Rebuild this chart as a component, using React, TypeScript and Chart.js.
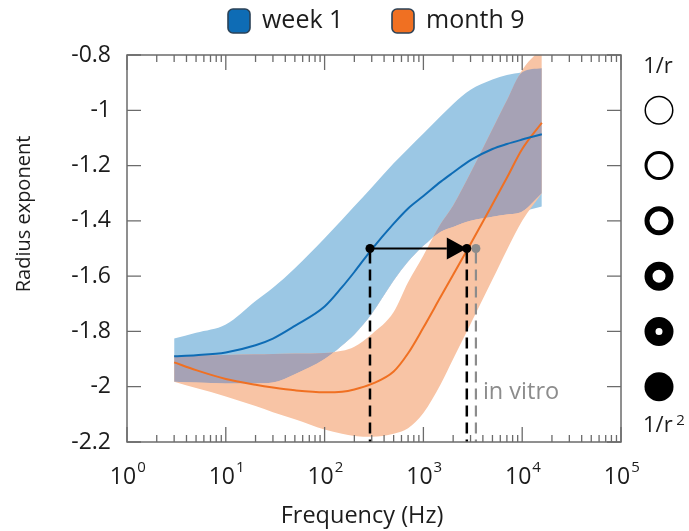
import { useEffect, useRef } from 'react';
import { Chart, registerables } from 'chart.js';

Chart.register(...registerables);

// ---------- data ----------
const frequencies = [3, 5, 10, 20, 30, 50, 100, 150, 200, 300, 500, 700, 1000, 1500, 2000, 3000, 5000, 7000, 10000, 15800];
const week1Mean = [-1.89, -1.886, -1.876, -1.85, -1.826, -1.78, -1.71, -1.64, -1.585, -1.503, -1.41, -1.355, -1.31, -1.258, -1.225, -1.18, -1.14, -1.122, -1.106, -1.087];
const week1Upper = [-1.826, -1.805, -1.775, -1.69, -1.642, -1.571, -1.463, -1.396, -1.347, -1.279, -1.192, -1.139, -1.084, -1.021, -0.977, -0.926, -0.889, -0.872, -0.862, -0.848];
const week1Lower = [-1.982, -1.985, -1.988, -1.988, -1.985, -1.955, -1.9, -1.851, -1.811, -1.736, -1.616, -1.547, -1.49, -1.439, -1.422, -1.4, -1.385, -1.377, -1.366, -1.348];
const month9Mean = [-1.912, -1.94, -1.972, -1.993, -2.003, -2.013, -2.02, -2.018, -2.01, -1.99, -1.945, -1.879, -1.786, -1.674, -1.595, -1.484, -1.34, -1.244, -1.14, -1.045];
const month9Upper = [-1.888, -1.886, -1.885, -1.883, -1.882, -1.88, -1.878, -1.87, -1.855, -1.81, -1.73, -1.622, -1.525, -1.41, -1.344, -1.226, -1.068, -0.964, -0.854, -0.775];
const month9Lower = [-1.982, -2.005, -2.035, -2.07, -2.092, -2.118, -2.155, -2.17, -2.178, -2.181, -2.17, -2.15, -2.095, -1.99, -1.9, -1.773, -1.612, -1.505, -1.4, -1.3];

const seriesNames = ['week 1', 'month 9'];
const xTickValues = [1, 10, 100, 1000, 10000, 100000];
const yTickValues = [-0.8, -1, -1.2, -1.4, -1.6, -1.8, -2, -2.2];
const xTitle = 'Frequency (Hz)';
const yTitle = 'Radius exponent';

const arrowLevel = -1.5;
const arrowFromFreq = 288;
const arrowToFreq = 2750;
const inVitroFreq = 3400;
const inVitroLabel = 'in vitro';

const ringLevels = [-1, -1.2, -1.4, -1.6, -1.8, -2];
const ringTopLabel = '1/r';
const ringBottomLabel = '1/r';
const ringBottomExp = '2';

// ---------- styles ----------
const FONT = "'Open Sans', 'DejaVu Sans', sans-serif";
const BLUE = '#0e6cb5';
const ORANGE = '#f07022';
const BLUE_BAND = '#9bc7e4';
const ORANGE_BAND = '#f8c4a5';
const OVERLAP = '#a6a2b5';
const AXIS = '#6b6b6b';
const TEXT = '#1c1c1c';
const GRAY_TEXT = '#8c8c8c';
const ringThickness = [1.5, 3, 5, 8, 11, 15];

const decorPlugin = {
  id: 'decor',
  afterDatasetsDraw(chart: any) {
    const { ctx, chartArea: ca } = chart;
    const x = chart.scales.x;
    const y = chart.scales.y;
    const yA = y.getPixelForValue(arrowLevel);
    const x1 = x.getPixelForValue(arrowFromFreq);
    const x2 = x.getPixelForValue(arrowToFreq);
    const x3 = x.getPixelForValue(inVitroFreq);
    ctx.save();
    // gray (in vitro) dashed line and dot
    ctx.setLineDash([11, 6]);
    ctx.lineWidth = 2.2;
    ctx.strokeStyle = GRAY_TEXT;
    ctx.beginPath();
    ctx.moveTo(x3, yA + 4);
    ctx.lineTo(x3, ca.bottom);
    ctx.stroke();
    ctx.setLineDash([]);
    ctx.fillStyle = GRAY_TEXT;
    ctx.beginPath();
    ctx.arc(x3, yA, 4.5, 0, Math.PI * 2);
    ctx.fill();
    // black dashed lines
    ctx.setLineDash([11, 6]);
    ctx.lineWidth = 2.5;
    ctx.strokeStyle = '#000';
    for (const xx of [x1, x2]) {
      ctx.beginPath();
      ctx.moveTo(xx, yA + 4);
      ctx.lineTo(xx, ca.bottom);
      ctx.stroke();
    }
    ctx.setLineDash([]);
    // arrow
    const triLen = 20;
    const triHalf = 11;
    ctx.lineWidth = 2;
    ctx.beginPath();
    ctx.moveTo(x1, yA);
    ctx.lineTo(x2 - triLen, yA);
    ctx.stroke();
    ctx.fillStyle = '#000';
    ctx.beginPath();
    ctx.moveTo(x2 - triLen, yA - triHalf);
    ctx.lineTo(x2, yA);
    ctx.lineTo(x2 - triLen, yA + triHalf);
    ctx.closePath();
    ctx.fill();
    for (const xx of [x1, x2]) {
      ctx.beginPath();
      ctx.arc(xx, yA, 4.5, 0, Math.PI * 2);
      ctx.fill();
    }
    // in vitro label
    ctx.fillStyle = GRAY_TEXT;
    ctx.font = `23.5px ${FONT}`;
    ctx.textAlign = 'left';
    ctx.textBaseline = 'alphabetic';
    ctx.fillText(inVitroLabel, x3 + 7, y.getPixelForValue(-2) + 12);
    ctx.restore();
  },
  afterDraw(chart: any) {
    const { ctx, chartArea: ca } = chart;
    const x = chart.scales.x;
    const y = chart.scales.y;
    ctx.save();
    // frame
    ctx.strokeStyle = AXIS;
    ctx.lineWidth = 1.5;
    ctx.strokeRect(ca.left, ca.top, ca.right - ca.left, ca.bottom - ca.top);
    // x ticks (major + minor), inward on top and bottom
    ctx.lineWidth = 1.3;
    ctx.beginPath();
    for (let d = 0; d < xTickValues.length; d++) {
      const base = xTickValues[d];
      const px = x.getPixelForValue(base);
      ctx.moveTo(px, ca.bottom);
      ctx.lineTo(px, ca.bottom - 15);
      ctx.moveTo(px, ca.top);
      ctx.lineTo(px, ca.top + 15);
      if (d < xTickValues.length - 1) {
        for (let m = 2; m <= 9; m++) {
          const mp = x.getPixelForValue(base * m);
          ctx.moveTo(mp, ca.bottom);
          ctx.lineTo(mp, ca.bottom - 7);
          ctx.moveTo(mp, ca.top);
          ctx.lineTo(mp, ca.top + 7);
        }
      }
    }
    for (const v of yTickValues) {
      const py = y.getPixelForValue(v);
      ctx.moveTo(ca.left, py);
      ctx.lineTo(ca.left + 14, py);
      ctx.moveTo(ca.right, py);
      ctx.lineTo(ca.right - 14, py);
    }
    ctx.stroke();

    // exponents of x tick labels
    ctx.fillStyle = TEXT;
    ctx.font = `23px ${FONT}`;
    const baseW = ctx.measureText('10').width;
    ctx.font = `15px ${FONT}`;
    ctx.textAlign = 'left';
    ctx.textBaseline = 'alphabetic';
    for (const v of xTickValues) {
      const px = x.getPixelForValue(v);
      const exp = String(Math.round(Math.log10(v)));
      ctx.fillText(exp, px - 4 + baseW / 2 + 1, ca.bottom + 30);
    }

    // axis titles
    ctx.font = `23.5px ${FONT}`;
    ctx.textAlign = 'center';
    ctx.textBaseline = 'middle';
    ctx.fillText(xTitle, 362, 516);
    ctx.font = `20px ${FONT}`;
    ctx.save();
    ctx.translate(24, 214);
    ctx.rotate(-Math.PI / 2);
    ctx.fillText(yTitle, 0, 0);
    ctx.restore();

    // legend
    const colors = [BLUE, ORANGE];
    const boxX = [228, 392];
    ctx.font = `25px ${FONT}`;
    seriesNames.forEach((name, i) => {
      ctx.beginPath();
      ctx.roundRect(boxX[i], 9, 22, 24, 5);
      ctx.fillStyle = colors[i];
      ctx.fill();
      ctx.lineWidth = 1.6;
      ctx.strokeStyle = '#2b4257';
      ctx.stroke();
      ctx.fillStyle = TEXT;
      ctx.textAlign = 'left';
      ctx.textBaseline = 'middle';
      ctx.fillText(name, boxX[i] + 34, 21);
    });

    // ring scale on the right
    const cx = ca.right + 38;
    ctx.fillStyle = '#000';
    ctx.strokeStyle = '#000';
    const R = 14.5;
    ringLevels.forEach((lv, i) => {
      const cy = y.getPixelForValue(lv);
      const t = ringThickness[i];
      ctx.beginPath();
      if (t >= R) {
        ctx.arc(cx, cy, R, 0, Math.PI * 2);
        ctx.fill();
      } else {
        ctx.lineWidth = t;
        ctx.arc(cx, cy, R - t / 2, 0, Math.PI * 2);
        ctx.stroke();
      }
    });
    ctx.fillStyle = TEXT;
    ctx.font = `22px ${FONT}`;
    ctx.textAlign = 'center';
    ctx.textBaseline = 'alphabetic';
    ctx.fillText(ringTopLabel, cx - 1, ca.top + 18);
    ctx.textAlign = 'left';
    ctx.fillText(ringBottomLabel, cx - 16, ca.bottom - 10);
    const w = ctx.measureText(ringBottomLabel + ' ').width;
    ctx.font = `15px ${FONT}`;
    ctx.fillText(ringBottomExp, cx - 16 + w - 2, ca.bottom - 17);
    ctx.restore();
  },
};

export default function App() {
  const ref = useRef<HTMLCanvasElement>(null);
  useEffect(() => {
    const canvas = ref.current;
    if (!canvas) return;
    const pts = (ys: number[]) => frequencies.map((f, i) => ({ x: f, y: ys[i] }));
    const overlapUpper = frequencies.map((_, i) => Math.min(week1Upper[i], month9Upper[i]));
    const overlapLower = frequencies.map((_, i) => Math.max(week1Lower[i], month9Lower[i]));
    const edge = {
      pointRadius: 0,
      borderWidth: 0,
      borderColor: 'rgba(0,0,0,0)',
      cubicInterpolationMode: 'monotone' as const,
    };
    const chart = new Chart(canvas, {
      type: 'line',
      data: {
        datasets: [
          { label: 'week 1 low', data: pts(week1Lower), ...edge, fill: false, order: 10 },
          { label: 'week 1 high', data: pts(week1Upper), ...edge, fill: 0, backgroundColor: BLUE_BAND, order: 10 },
          { label: 'month 9 low', data: pts(month9Lower), ...edge, fill: false, order: 9 },
          { label: 'month 9 high', data: pts(month9Upper), ...edge, fill: 2, backgroundColor: ORANGE_BAND, order: 9 },
          { label: 'overlap low', data: pts(overlapLower), ...edge, fill: false, order: 8 },
          {
            label: 'overlap high',
            data: pts(overlapUpper),
            ...edge,
            fill: { target: 4, above: OVERLAP, below: 'rgba(0,0,0,0)' },
            order: 8,
          },
          {
            label: seriesNames[1],
            data: pts(month9Mean),
            borderColor: ORANGE,
            borderWidth: 2,
            pointRadius: 0,
            fill: false,
            cubicInterpolationMode: 'monotone',
            order: 2,
          },
          {
            label: seriesNames[0],
            data: pts(week1Mean),
            borderColor: BLUE,
            borderWidth: 2,
            pointRadius: 0,
            fill: false,
            cubicInterpolationMode: 'monotone',
            order: 1,
          },
        ],
      },
      options: {
        responsive: false,
        animation: false,
        devicePixelRatio: 1,
        layout: { padding: { left: 0, top: 55, right: 68, bottom: 0 } },
        plugins: { legend: { display: false }, tooltip: { enabled: false }, title: { display: false } },
        scales: {
          x: {
            type: 'logarithmic',
            min: 1,
            max: 100000,
            grid: { display: false, drawTicks: false },
            border: { display: false },
            afterBuildTicks: (scale: any) => {
              scale.ticks = xTickValues.map((v) => ({ value: v }));
            },
            afterFit: (scale: any) => {
              scale.height = 89;
            },
            ticks: {
              autoSkip: false,
              maxRotation: 0,
              padding: 22,
              labelOffset: -4,
              color: TEXT,
              font: { family: FONT, size: 23 },
              callback: () => '10',
            },
          },
          y: {
            type: 'linear',
            min: -2.2,
            max: -0.8,
            grid: { display: false, drawTicks: false },
            border: { display: false },
            afterBuildTicks: (scale: any) => {
              scale.ticks = yTickValues.map((v) => ({ value: v }));
            },
            afterFit: (scale: any) => {
              scale.width = 127;
            },
            ticks: {
              autoSkip: false,
              padding: 16,
              color: TEXT,
              font: { family: FONT, size: 23 },
              callback: (v: any) => String(v),
            },
          },
        },
      },
      plugins: [decorPlugin],
    } as any);
    return () => chart.destroy();
  }, []);
  return (
    <div style={{ position: 'fixed', left: 0, top: 0, width: 689, height: 531, background: '#fff' }}>
      <canvas ref={ref} width={689} height={531} style={{ width: 689, height: 531, display: 'block' }} />
    </div>
  );
}
